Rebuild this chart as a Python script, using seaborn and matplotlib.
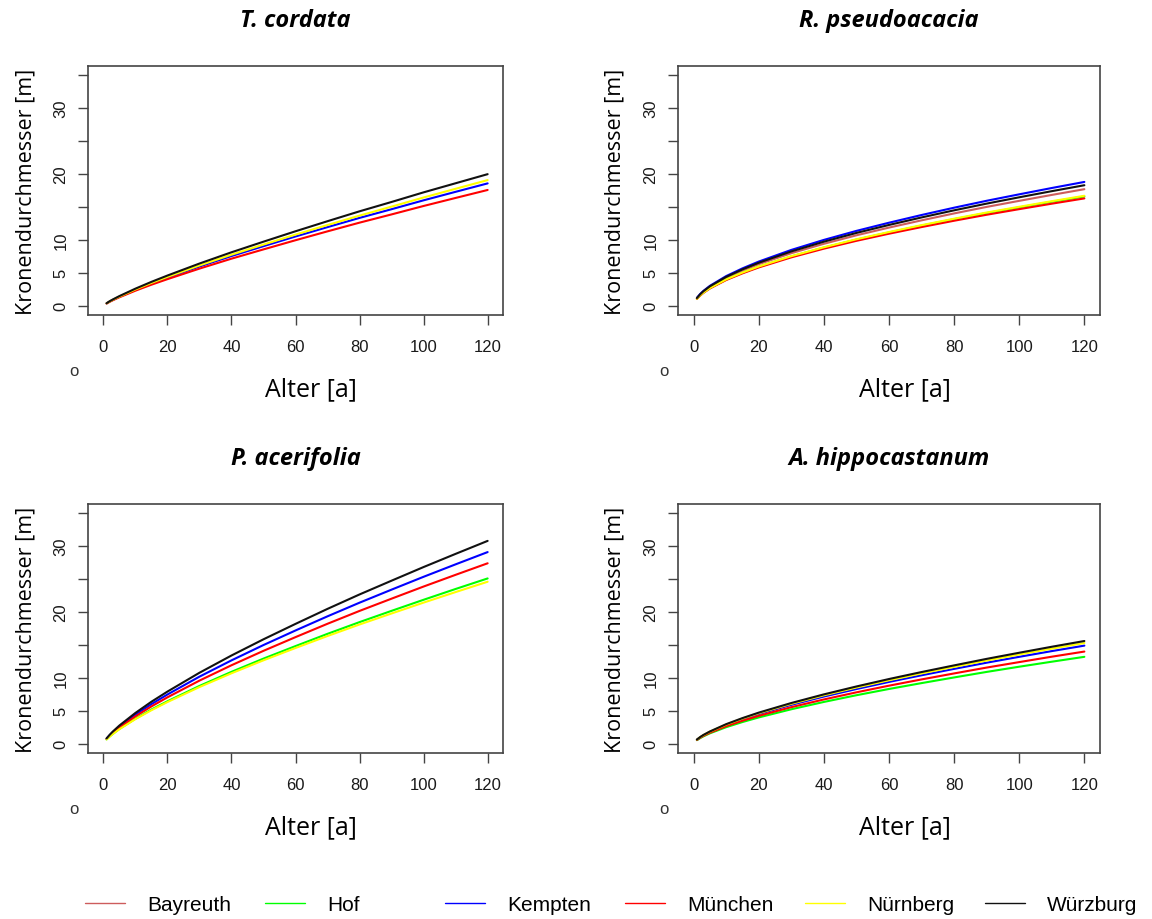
import matplotlib
matplotlib.use("Agg")
import matplotlib.pyplot as plt
from matplotlib.lines import Line2D
import seaborn as sns
import pandas as pd

# ---------------- data ----------------
AGES = [1, 2, 3, 5, 10, 15, 20, 30, 40, 50, 60, 70, 80, 90, 100, 110, 120]

CITIES = ["Bayreuth", "Hof", "Kempten", "München", "Nürnberg", "Würzburg"]
CITY_COLORS = ["#CD5C5C", "#00FF00", "#0000FF", "#FF0000", "#FFFF00", "#111111"]

SPECIES = ["T. cordata", "R. pseudoacacia", "P. acerifolia", "A. hippocastanum"]

T_CORDATA = {
    "Kempten":  [0.36, 0.65, 0.90, 1.37, 2.42, 3.38, 4.27, 5.96, 7.55, 9.05, 10.52, 11.94, 13.34, 14.66, 16.01, 17.30, 18.58],
    "München":  [0.34, 0.61, 0.85, 1.29, 2.29, 3.20, 4.04, 5.64, 7.15, 8.56, 9.95, 11.30, 12.62, 13.87, 15.15, 16.37, 17.58],
    "Nürnberg": [0.37, 0.66, 0.93, 1.40, 2.48, 3.47, 4.38, 6.12, 7.75, 9.29, 10.80, 12.26, 13.69, 15.05, 16.44, 17.76, 19.08],
    "Würzburg": [0.39, 0.70, 0.97, 1.47, 2.60, 3.63, 4.59, 6.41, 8.12, 9.73, 11.31, 12.84, 14.34, 15.76, 17.22, 18.60, 19.98],
}

R_PSEUDOACACIA = {
    "Bayreuth": [1.13, 1.68, 2.12, 2.85, 4.25, 5.35, 6.32, 7.98, 9.41, 10.70, 11.87, 12.97, 14.02, 15.01, 15.93, 16.83, 17.70],
    "Hof":      [1.06, 1.58, 1.99, 2.68, 3.98, 5.01, 5.92, 7.49, 8.83, 10.04, 11.13, 12.17, 13.15, 14.08, 14.94, 15.79, 16.60],
    "Kempten":  [1.20, 1.79, 2.26, 3.03, 4.51, 5.68, 6.71, 8.48, 10.00, 11.37, 12.61, 13.78, 14.89, 15.94, 16.92, 17.88, 18.80],
    "München":  [1.04, 1.55, 1.96, 2.63, 3.91, 4.92, 5.82, 7.35, 8.67, 9.86, 10.94, 11.95, 12.91, 13.82, 14.67, 15.50, 16.30],
    "Nürnberg": [1.07, 1.59, 2.00, 2.69, 4.00, 5.04, 5.96, 7.53, 8.88, 10.10, 11.20, 12.24, 13.22, 14.16, 15.03, 15.88, 16.70],
    "Würzburg": [1.17, 1.74, 2.20, 2.95, 4.39, 5.53, 6.53, 8.25, 9.73, 11.06, 12.27, 13.41, 14.49, 15.51, 16.47, 17.40, 18.30],
}

P_ACERIFOLIA = {
    "Hof":      [0.67, 1.13, 1.53, 2.26, 3.81, 5.20, 6.45, 8.78, 10.92, 12.93, 14.83, 16.69, 18.47, 20.18, 21.86, 23.50, 25.10],
    "Kempten":  [0.77, 1.31, 1.78, 2.62, 4.42, 6.02, 7.48, 10.19, 12.66, 14.99, 17.20, 19.35, 21.42, 23.40, 25.35, 27.24, 29.10],
    "München":  [0.73, 1.23, 1.67, 2.46, 4.16, 5.67, 7.05, 9.59, 11.92, 14.11, 16.19, 18.22, 20.17, 22.03, 23.87, 25.65, 27.40],
    "Nürnberg": [0.66, 1.10, 1.50, 2.21, 3.74, 5.09, 6.33, 8.61, 10.70, 12.67, 14.54, 16.36, 18.11, 19.78, 21.43, 23.03, 24.60],
    "Würzburg": [0.82, 1.38, 1.88, 2.77, 4.68, 6.38, 7.92, 10.78, 13.40, 15.86, 18.20, 20.48, 22.67, 24.76, 26.83, 28.83, 30.80],
}

A_HIPPOCASTANUM = {
    "Hof":      [0.55, 0.86, 1.13, 1.59, 2.52, 3.30, 4.00, 5.24, 6.35, 7.37, 8.32, 9.21, 10.07, 10.91, 11.70, 12.46, 13.20],
    "Kempten":  [0.61, 0.97, 1.28, 1.79, 2.85, 3.73, 4.51, 5.91, 7.17, 8.31, 9.39, 10.40, 11.37, 12.31, 13.20, 14.07, 14.90],
    "München":  [0.58, 0.92, 1.20, 1.68, 2.68, 3.50, 4.24, 5.56, 6.73, 7.81, 8.82, 9.77, 10.68, 11.57, 12.40, 13.22, 14.00],
    "Nürnberg": [0.63, 1.00, 1.31, 1.84, 2.92, 3.83, 4.64, 6.07, 7.36, 8.54, 9.64, 10.68, 11.67, 12.64, 13.56, 14.44, 15.30],
    "Würzburg": [0.64, 1.02, 1.34, 1.87, 2.98, 3.90, 4.73, 6.19, 7.50, 8.70, 9.83, 10.89, 11.90, 12.89, 13.82, 14.73, 15.60],
}

SPECIES_DATA = [T_CORDATA, R_PSEUDOACACIA, P_ACERIFOLIA, A_HIPPOCASTANUM]

X_TICKS = [0, 20, 40, 60, 80, 100, 120]
Y_TICKS = [0, 5, 10, 15, 20, 25, 30, 35]
Y_TICK_LABELS = ["0", "5", "10", "", "20", "", "30", ""]

X_LABEL = "Alter [a]"
Y_LABEL = "Kronendurchmesser [m]"

# ---------------- styling ----------------
sns.set_theme(style="white")
plt.rcParams["font.family"] = ["Liberation Sans", "DejaVu Sans"]
plt.rcParams["axes.edgecolor"] = "#444444"
plt.rcParams["xtick.color"] = "#444444"
plt.rcParams["ytick.color"] = "#444444"
plt.rcParams["xtick.labelcolor"] = "#1a1a1a"
plt.rcParams["ytick.labelcolor"] = "#1a1a1a"
plt.rcParams["text.color"] = "#000000"
plt.rcParams["axes.labelcolor"] = "#000000"

palette = dict(zip(CITIES, CITY_COLORS))

fig = plt.figure(figsize=(11.52, 9.2), dpi=100)
W, H = 1152.0, 920.0

# axes boxes in pixels: (left, top, right, bottom)
boxes = [(88, 67, 503, 316), (678, 67, 1100, 316),
         (88, 505, 503, 754), (678, 505, 1100, 754)]

for sp, data, (l, t, r, b) in zip(SPECIES, SPECIES_DATA, boxes):
    ax = fig.add_axes([l / W, 1 - b / H, (r - l) / W, (b - t) / H])
    rows = []
    for city in CITIES:
        if city in data:
            for a, v in zip(AGES, data[city]):
                rows.append({"Alter": a, "Durchmesser": v, "Stadt": city})
    df = pd.DataFrame(rows)
    order = [c for c in CITIES if c in data]
    sns.lineplot(data=df, x="Alter", y="Durchmesser", hue="Stadt",
                 hue_order=order, palette=palette, linewidth=1.5,
                 legend=False, ax=ax)
    ax.set_xlim(-4.8, 124.8)
    ax.set_ylim(-1.4, 36.4)
    ax.set_xticks(X_TICKS)
    ax.set_xticklabels([str(x) for x in X_TICKS], fontsize=12)
    ax.set_yticks(Y_TICKS)
    ax.set_yticklabels(Y_TICK_LABELS, fontsize=12, rotation=90, va="center")
    ax.tick_params(axis="both", direction="out", length=7, width=1.0,
                   bottom=True, left=True)
    ax.tick_params(axis="x", pad=10)
    ax.tick_params(axis="y", pad=7)
    for s in ax.spines.values():
        s.set_visible(True)
        s.set_linewidth(1.2)
        s.set_color("#444444")
    ax.set_xlabel(X_LABEL, fontsize=18, family=["Open Sans", "DejaVu Sans"],
                  va="center")
    ax.set_ylabel(Y_LABEL, fontsize=15.5, family=["Open Sans", "DejaVu Sans"])
    ax.xaxis.set_label_coords(0.538, -0.297)
    ax.yaxis.set_label_coords(-0.125, 0.5)
    ax.set_title(sp, fontsize=17, fontweight="bold", fontstyle="italic",
                 family=["Open Sans", "DejaVu Sans"], pad=29)
    ax.grid(False)
    # stray "o" artefact under each panel
    fig.text((l - 14) / W, 1 - (b + 56) / H, "o", fontsize=12,
             ha="center", va="center", color="#333333")

# legend along the bottom, evenly spaced like the original
leg_x = [85, 265, 445, 625, 805, 985]
for city, color, x in zip(CITIES, CITY_COLORS, leg_x):
    h = Line2D([], [], color=color, lw=1.0)
    fig.legend(handles=[h], labels=[city], loc="center left",
               bbox_to_anchor=(x / W, 1 - 906 / H), frameon=False,
               borderpad=0, borderaxespad=0, handlelength=1.92,
               handletextpad=1.05, fontsize=15)

fig.savefig("out.png", dpi=100)
